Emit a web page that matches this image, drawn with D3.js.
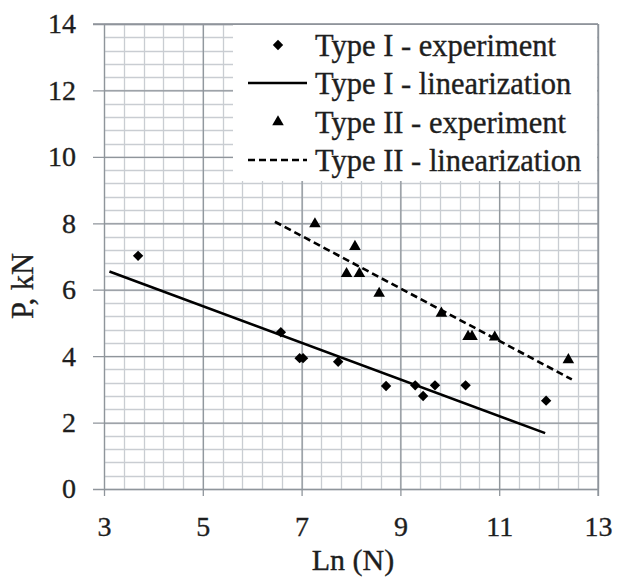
<!DOCTYPE html>
<html>
<head>
<meta charset="utf-8">
<script src="https://cdn.jsdelivr.net/npm/d3@7"></script>
<style>
  html, body { margin: 0; padding: 0; background: #fff; }
  svg { display: block; }
  text { font-family: "Liberation Serif", "Times New Roman", serif; fill: #1e1e1e; stroke: #1e1e1e; stroke-width: 0.35px; }
</style>
</head>
<body>
<svg id="chart" width="623" height="578"></svg>
<script>
// ---- data ----
const typeIx = [3.69, 6.58, 6.96, 7.03, 7.74, 8.71, 9.30, 9.46, 9.70, 10.32, 11.95];
const typeIy = [7.02, 4.72, 3.94, 3.94, 3.83, 3.10, 3.12, 2.80, 3.12, 3.12, 2.66];
const typeIIx = [7.27, 7.91, 8.08, 8.17, 8.57, 9.83, 10.37, 10.45, 10.91, 12.40];
const typeIIy = [7.98, 6.48, 7.30, 6.48, 5.89, 5.29, 4.59, 4.59, 4.57, 3.89];
// linearizations: P = a + b * Ln(N), drawn over [from, to]
const lineI = { a: 8.267, b: -0.552, from: 3.11, to: 11.93 };
const lineII = { a: 13.15, b: -0.79, from: 6.46, to: 12.47 };
const xTicks = [3, 5, 7, 9, 11, 13];
const yTicks = [0, 2, 4, 6, 8, 10, 12, 14];
const legendLabels = ["Type I - experiment", "Type I - linearization", "Type II - experiment", "Type II - linearization"];
const xTitle = "Ln (N)";
const yTitle = "P, kN";

// ---- drawing ----
const svg = d3.select("#chart");
const L = 104, R = 598, T = 24, B = 489;
const x = d3.scaleLinear().domain([3, 13]).range([L, R]);
const y = d3.scaleLinear().domain([0, 14]).range([B, T]);

const minorColor = "#c9cdd2", majorColor = "#8f959b";

// minor grid (every 0.4)
const xMinor = d3.range(0, 26).map(i => 3 + i * 0.4);
const yMinor = d3.range(0, 36).map(i => i * 0.4);
const g = svg.append("g");
g.selectAll("line.vm").data(xMinor).join("line")
  .attr("x1", d => Math.round(x(d)) + 0.5).attr("x2", d => Math.round(x(d)) + 0.5)
  .attr("y1", T).attr("y2", B).attr("stroke", minorColor).attr("stroke-width", 1.3);
g.selectAll("line.hm").data(yMinor).join("line")
  .attr("y1", d => Math.round(y(d)) + 0.5).attr("y2", d => Math.round(y(d)) + 0.5)
  .attr("x1", L).attr("x2", R).attr("stroke", minorColor).attr("stroke-width", 1.3);

// major grid via axes
const yAxis = d3.axisLeft(y).tickValues(yTicks).tickSize(R - 93).tickPadding(17).tickFormat(d3.format("d"));
const ya = svg.append("g").attr("transform", `translate(${R},0)`).call(yAxis);
const xAxis = d3.axisBottom(x).tickValues(xTicks).tickSize(496 - T).tickPadding(20).tickFormat(d3.format("d"));
const xa = svg.append("g").attr("transform", `translate(0,${T})`).call(xAxis);
[ya, xa].forEach(a => {
  a.attr("font-family", null);
  a.select(".domain").remove();
  a.selectAll(".tick line").attr("stroke", majorColor).attr("stroke-width", 1.3);
  a.selectAll(".tick text").attr("font-size", 28).attr("fill", "#1e1e1e");
});

// legend box
const lg = svg.append("g");
lg.append("rect").attr("x", 233).attr("y", T + 1).attr("width", R - 233 - 1).attr("height", 181 - T - 1).attr("fill", "#fff");
// redraw top and right borders over legend
svg.append("line").attr("x1", 93).attr("x2", R).attr("y1", y(14)).attr("y2", y(14)).attr("stroke", majorColor).attr("stroke-width", 1.3);
svg.append("line").attr("x1", R).attr("x2", R).attr("y1", T).attr("y2", 496).attr("stroke", majorColor).attr("stroke-width", 1.3);

const diamond = d3.symbol().type(d3.symbolSquare).size(54)();
const triangle = d3.symbol().type(d3.symbolTriangle).size(58)();

const rowY = [45, 83, 122, 160];
lg.selectAll("text").data(legendLabels).join("text")
  .attr("x", 315).attr("y", (d, i) => rowY[i]).attr("dy", "0.35em")
  .attr("font-size", 30.5).text(d => d);
lg.append("path").attr("d", diamond).attr("transform", `translate(278,${rowY[0]}) rotate(45)`).attr("fill", "#000");
lg.append("line").attr("x1", 248).attr("x2", 307).attr("y1", rowY[1]).attr("y2", rowY[1]).attr("stroke", "#000").attr("stroke-width", 2.6);
lg.append("path").attr("d", triangle).attr("transform", `translate(278,${rowY[2]})`).attr("fill", "#000");
lg.append("line").attr("x1", 248).attr("x2", 307).attr("y1", rowY[3]).attr("y2", rowY[3]).attr("stroke", "#000").attr("stroke-width", 2.6).attr("stroke-dasharray", "7,4");

// linearization lines
const lineGen = d3.line().x(d => x(d[0])).y(d => y(d[1]));
[[lineI, null], [lineII, "7,4"]].forEach(([ln, dash]) => {
  const pts = [[ln.from, ln.a + ln.b * ln.from], [ln.to, ln.a + ln.b * ln.to]];
  const p = svg.append("path").attr("d", lineGen(pts)).attr("stroke", "#000").attr("stroke-width", 2.6).attr("fill", "none");
  if (dash) p.attr("stroke-dasharray", dash);
});

// points
svg.append("g").selectAll("path").data(typeIx.map((v, i) => [v, typeIy[i]])).join("path")
  .attr("d", diamond).attr("fill", "#000")
  .attr("transform", d => `translate(${x(d[0])},${y(d[1])}) rotate(45)`);
svg.append("g").selectAll("path").data(typeIIx.map((v, i) => [v, typeIIy[i]])).join("path")
  .attr("d", triangle).attr("fill", "#000")
  .attr("transform", d => `translate(${x(d[0])},${y(d[1])})`);

// axis titles
svg.append("text").attr("x", (L + R) / 2 + 2).attr("y", 570).attr("text-anchor", "middle").attr("font-size", 30).text(xTitle);
svg.append("text").attr("transform", "translate(33,286) rotate(-90)").attr("text-anchor", "middle").attr("font-size", 30.5).text(yTitle);
</script>
</body>
</html>
